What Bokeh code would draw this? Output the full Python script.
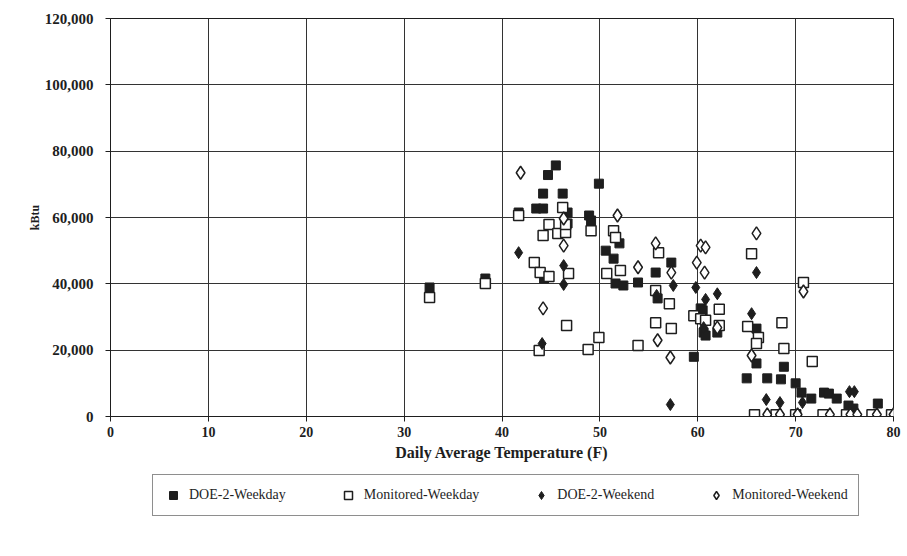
from bokeh.plotting import figure
from bokeh.models import Legend, LegendItem, FixedTicker, NumeralTickFormatter, Range1d
from bokeh.layouts import column
from bokeh.embed import file_html
from bokeh.resources import INLINE

# DOE-2 Weekday (filled squares)
doe_wd_t = [32.6, 38.3, 41.7, 43.5, 44.2, 44.2, 44.7, 45.5, 46.2, 46.7, 46.7, 44.3, 48.9, 49.1,
            49.9, 50.6, 51.4, 52.0, 51.6, 52.4, 53.9, 55.7, 55.9, 57.3, 59.6, 60.3, 60.5, 60.6,
            62.0, 60.8, 66.0, 66.0, 65.0, 67.1, 68.5, 68.8, 70.0, 70.6, 71.6, 72.9, 73.4, 74.2,
            75.4, 75.9, 78.4]
doe_wd_k = [38900, 41600, 61500, 62700, 62700, 67200, 72800, 75700, 67200, 61500, 58200, 41600,
            60600, 59100, 70200, 50000, 47600, 52200, 40100, 39500, 40400, 43400, 35600, 46400,
            18000, 32600, 32000, 25300, 25300, 24400, 26500, 16000, 11500, 11500, 11200, 15000,
            10000, 7200, 5400, 7200, 6900, 5400, 3300, 2400, 3900]

# Monitored Weekday (open squares)
mon_wd_t = [32.6, 38.3, 41.7, 43.8, 43.3, 43.9, 44.8, 44.2, 44.8, 45.7, 46.5, 46.5, 46.2, 46.8,
            46.6, 48.8, 49.1, 49.9, 50.7, 51.4, 51.6, 52.1, 53.9, 55.7, 56.0, 55.7, 57.1, 57.3,
            59.6, 60.3, 60.8, 62.2, 62.2, 65.5, 65.1, 66.2, 66.0, 68.6, 68.8, 70.8, 71.7,
            65.8, 68.0, 70.0, 72.8, 75.2, 77.8, 79.8]
mon_wd_k = [35900, 40100, 60600, 19900, 46400, 43400, 42200, 54600, 57900, 55200, 55500, 57900,
            63000, 43100, 27400, 20200, 56000, 23800, 43100, 56000, 54000, 44000, 21400, 38000,
            49400, 28300, 34000, 26500, 30400, 29500, 29000, 32300, 27400, 49100, 27100, 23800,
            22000, 28300, 20500, 40400, 16600,
            500, 500, 500, 500, 500, 500, 500]

# DOE-2 Weekend (filled diamonds)
doe_we_t = [41.7, 44.1, 46.3, 46.3, 57.5, 57.2, 59.8, 60.8, 62.0, 66.0, 65.5, 67.0, 68.4, 70.7,
            75.5, 76.0, 55.8, 60.6]
doe_we_k = [49400, 22000, 45500, 39800, 39500, 3600, 38900, 35300, 37000, 43400, 31000, 5100,
            4200, 4200, 7500, 7500, 36500, 26800]

# Monitored Weekend (open diamonds)
mon_we_t = [41.9, 44.2, 46.3, 46.3, 51.8, 53.9, 55.7, 57.3, 55.9, 57.2, 59.9, 60.7, 60.3, 60.8,
            62.0, 66.0, 65.5, 70.8,
            67.1, 68.4, 70.2, 73.5, 75.6, 76.3, 78.3, 80.0]
mon_we_k = [73500, 32600, 51500, 59700, 60600, 45000, 52200, 43400, 23000, 17800, 46400, 43400,
            51500, 51000, 26800, 55200, 18400, 37700,
            600, 600, 600, 600, 600, 600, 600, 600]

series_labels = ["DOE-2-Weekday", "Monitored-Weekday", "DOE-2-Weekend", "Monitored-Weekend"]
x_ticks = [0, 10, 20, 30, 40, 50, 60, 70, 80]
y_ticks = [0, 20000, 40000, 60000, 80000, 100000, 120000]

FONT = "Liberation Serif"
INK = "#1e1e1e"

styles = [
    dict(marker="square", size=9, fill_color=INK, line_color=INK),
    dict(marker="square", size=10, fill_color="white", line_color=INK, line_width=1.5),
    dict(marker="diamond", size=12, fill_color=INK, line_color=INK),
    dict(marker="diamond", size=13, fill_color="white", line_color=INK, line_width=1.5),
]

p = figure(width=907, height=470, output_backend="svg", toolbar_location=None,
           x_range=Range1d(0, 80), y_range=Range1d(0, 120000),
           min_border_left=110, min_border_right=14, min_border_top=18, min_border_bottom=54)

p.outline_line_color = INK
p.outline_line_width = 1
p.background_fill_color = "white"
p.border_fill_color = "white"

for ax in (p.xaxis[0], p.yaxis[0]):
    ax.major_label_text_font = FONT
    ax.major_label_text_font_style = "bold"
    ax.major_label_text_color = INK
    ax.axis_label_text_font = FONT
    ax.axis_label_text_font_style = "bold"
    ax.axis_label_text_color = INK
    ax.axis_line_color = INK
    ax.major_tick_line_color = INK
    ax.minor_tick_line_color = None
    ax.major_tick_out = 5
    ax.major_tick_in = 0

p.xaxis.major_label_text_font_size = "14px"
p.yaxis.major_label_text_font_size = "15px"
p.xaxis.axis_label_text_font_size = "16px"
p.yaxis.axis_label_text_font_size = "12px"

p.xaxis.ticker = FixedTicker(ticks=x_ticks)
p.yaxis.ticker = FixedTicker(ticks=y_ticks)
p.yaxis.formatter = NumeralTickFormatter(format="0,0")
p.xaxis.axis_label = "Daily Average Temperature (F)"
p.yaxis.axis_label = "kBtu"
p.xaxis.major_label_standoff = 5
p.xaxis.axis_label_standoff = 4
p.yaxis.major_label_standoff = 12
p.yaxis.axis_label_standoff = 0

p.xgrid.ticker = FixedTicker(ticks=x_ticks)
p.ygrid.ticker = FixedTicker(ticks=y_ticks)
p.grid.grid_line_color = "#333333"
p.grid.grid_line_width = 1

series = [(doe_wd_t, doe_wd_k), (mon_wd_t, mon_wd_k), (doe_we_t, doe_we_k), (mon_we_t, mon_we_k)]
for (xs, ys), st in zip(series, styles):
    p.scatter(xs, ys, **st)

# Legend strip below the chart (its frame lines up with the chart's frame)
p2 = figure(width=907, height=86, output_backend="svg", toolbar_location=None,
            x_range=Range1d(0, 1), y_range=Range1d(0, 1),
            min_border_left=110, min_border_right=14, min_border_top=0, min_border_bottom=0)
p2.axis.visible = False
p2.grid.visible = False
p2.outline_line_color = None
p2.background_fill_color = "white"
p2.border_fill_color = "white"

items = []
for lab, st in zip(series_labels, styles):
    # one sample point placed outside the visible range, only to feed the legend glyph
    r = p2.scatter([-5], [-5], **st)
    items.append(LegendItem(label=lab, renderers=[r]))

legend = Legend(items=items, orientation="horizontal", location=(42, 40))
legend.label_text_font = FONT
legend.label_text_font_size = "14px"
legend.label_text_color = INK
legend.border_line_color = INK
legend.border_line_width = 1
legend.background_fill_color = "white"
legend.spacing = 52
legend.padding = 10
legend.margin = 0
legend.glyph_width = 20
legend.label_standoff = 6
p2.add_layout(legend, "center")

open("out.html", "w").write(file_html(column(p, p2, spacing=0), INLINE))
